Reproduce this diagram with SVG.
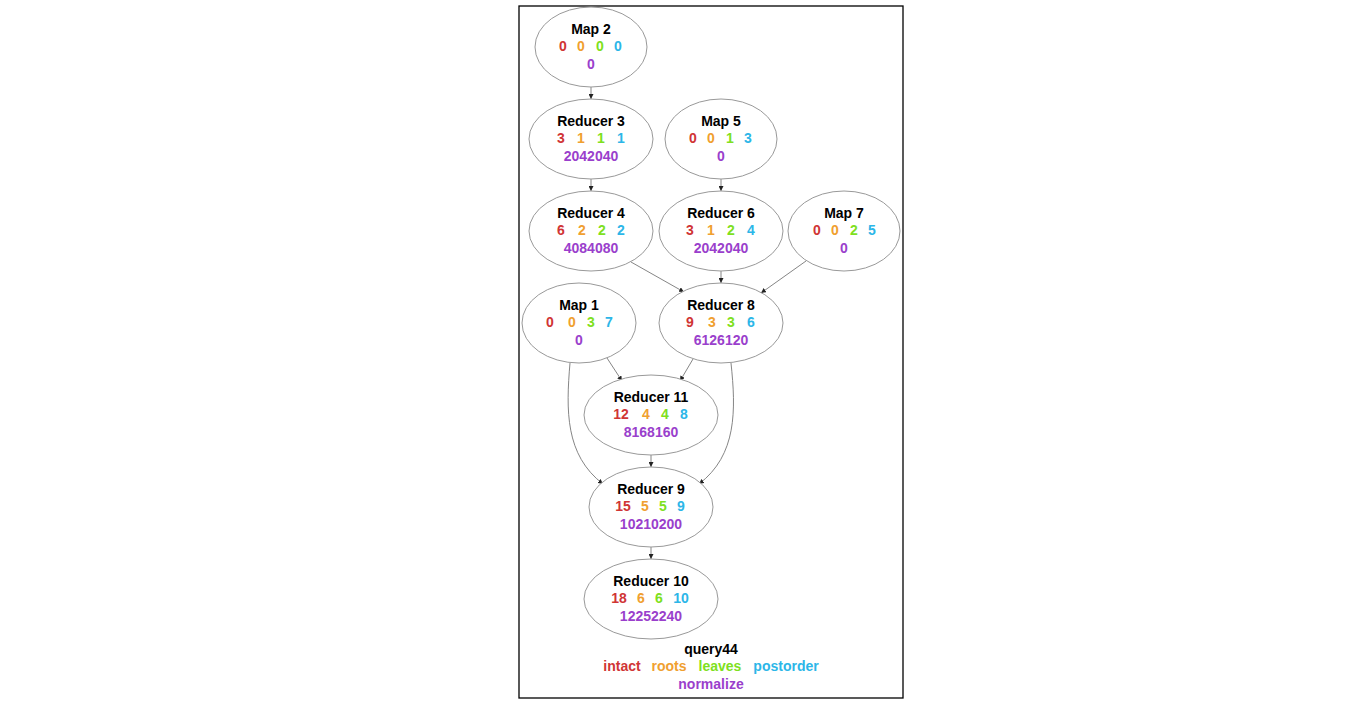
<svg xmlns="http://www.w3.org/2000/svg" width="1371" height="705" viewBox="0 0 1371 705">
<style>
text{font-family:"Liberation Sans",Arial,sans-serif;font-weight:bold;font-size:14px;text-anchor:middle}
.n ellipse{fill:#fff;stroke:#999;stroke-width:1}
.t{fill:#000}
.r{fill:#d03535}.o{fill:#f0a030}.g{fill:#7ee020}.b{fill:#2cb6e8}.p{fill:#9a3fcc}
#edges path{fill:none;stroke:#777;stroke-width:0.9}
</style>
<defs>
<marker id="a" viewBox="0 0 10 10" refX="10" refY="5" markerWidth="5" markerHeight="5" orient="auto" markerUnits="userSpaceOnUse"><path d="M0,0L10,5L0,10z" fill="#222"/></marker>
</defs>
<rect x="0" y="0" width="1371" height="705" fill="#fff"/>
<rect x="519" y="6" width="384" height="692" fill="#fff" stroke="#000" stroke-width="1.3"/>
<g id="edges">
<path d="M591,87V99" marker-end="url(#a)"/>
<path d="M591,179V191" marker-end="url(#a)"/>
<path d="M721,179V191" marker-end="url(#a)"/>
<path d="M631,262L684,292" marker-end="url(#a)"/>
<path d="M721,271V283" marker-end="url(#a)"/>
<path d="M806,261L761,293" marker-end="url(#a)"/>
<path d="M607,358L622,381" marker-end="url(#a)"/>
<path d="M693,359L680,381" marker-end="url(#a)"/>
<path d="M570,363C566,410 565,455 603,484" marker-end="url(#a)"/>
<path d="M731,363C736,410 737,455 699,484" marker-end="url(#a)"/>
<path d="M651,455V467" marker-end="url(#a)"/>
<path d="M651,547V559" marker-end="url(#a)"/>
</g>
<g id="map2" class="n"><ellipse cx="591" cy="47" rx="56" ry="40"/><text class="t" x="591" y="34">Map 2</text><text class="r" x="563" y="51">0</text><text class="o" x="581" y="51">0</text><text class="g" x="600" y="51">0</text><text class="b" x="618" y="51">0</text><text class="p" x="591" y="69">0</text></g>
<g id="reducer3" class="n"><ellipse cx="591" cy="139" rx="62" ry="40"/><text class="t" x="591" y="126">Reducer 3</text><text class="r" x="561" y="143">3</text><text class="o" x="581" y="143">1</text><text class="g" x="601" y="143">1</text><text class="b" x="621" y="143">1</text><text class="p" x="591" y="161">2042040</text></g>
<g id="map5" class="n"><ellipse cx="721" cy="139" rx="56" ry="40"/><text class="t" x="721" y="126">Map 5</text><text class="r" x="693" y="143">0</text><text class="o" x="711" y="143">0</text><text class="g" x="730" y="143">1</text><text class="b" x="748" y="143">3</text><text class="p" x="721" y="161">0</text></g>
<g id="reducer4" class="n"><ellipse cx="591" cy="231" rx="62" ry="40"/><text class="t" x="591" y="218">Reducer 4</text><text class="r" x="561" y="235">6</text><text class="o" x="582" y="235">2</text><text class="g" x="602" y="235">2</text><text class="b" x="621" y="235">2</text><text class="p" x="591" y="253">4084080</text></g>
<g id="reducer6" class="n"><ellipse cx="721" cy="231" rx="62" ry="40"/><text class="t" x="721" y="218">Reducer 6</text><text class="r" x="690" y="235">3</text><text class="o" x="711" y="235">1</text><text class="g" x="731" y="235">2</text><text class="b" x="751" y="235">4</text><text class="p" x="721" y="253">2042040</text></g>
<g id="map7" class="n"><ellipse cx="844" cy="231" rx="56" ry="40"/><text class="t" x="844" y="218">Map 7</text><text class="r" x="817" y="235">0</text><text class="o" x="835" y="235">0</text><text class="g" x="854" y="235">2</text><text class="b" x="872" y="235">5</text><text class="p" x="844" y="253">0</text></g>
<g id="map1" class="n"><ellipse cx="579" cy="323" rx="57" ry="40"/><text class="t" x="579" y="310">Map 1</text><text class="r" x="550" y="327">0</text><text class="o" x="572" y="327">0</text><text class="g" x="591" y="327">3</text><text class="b" x="609" y="327">7</text><text class="p" x="579" y="345">0</text></g>
<g id="reducer8" class="n"><ellipse cx="721" cy="323" rx="62" ry="40"/><text class="t" x="721" y="310">Reducer 8</text><text class="r" x="690" y="327">9</text><text class="o" x="712" y="327">3</text><text class="g" x="731" y="327">3</text><text class="b" x="751" y="327">6</text><text class="p" x="721" y="345">6126120</text></g>
<g id="reducer11" class="n"><ellipse cx="651" cy="415" rx="67" ry="40"/><text class="t" x="651" y="402">Reducer 11</text><text class="r" x="621" y="419">12</text><text class="o" x="646" y="419">4</text><text class="g" x="665" y="419">4</text><text class="b" x="684" y="419">8</text><text class="p" x="651" y="437">8168160</text></g>
<g id="reducer9" class="n"><ellipse cx="651" cy="507" rx="62" ry="40"/><text class="t" x="651" y="494">Reducer 9</text><text class="r" x="623" y="511">15</text><text class="o" x="645" y="511">5</text><text class="g" x="663" y="511">5</text><text class="b" x="681" y="511">9</text><text class="p" x="651" y="529">10210200</text></g>
<g id="reducer10" class="n"><ellipse cx="651" cy="599" rx="67" ry="40"/><text class="t" x="651" y="586">Reducer 10</text><text class="r" x="619" y="603">18</text><text class="o" x="641" y="603">6</text><text class="g" x="659" y="603">6</text><text class="b" x="681" y="603">10</text><text class="p" x="651" y="621">12252240</text></g>
<g id="legend"><text class="t" x="711" y="654">query44</text><text class="r" x="622" y="671">intact</text><text class="o" x="669" y="671">roots</text><text class="g" x="720" y="671">leaves</text><text class="b" x="786" y="671">postorder</text><text class="p" x="711" y="689">normalize</text></g>
</svg>
